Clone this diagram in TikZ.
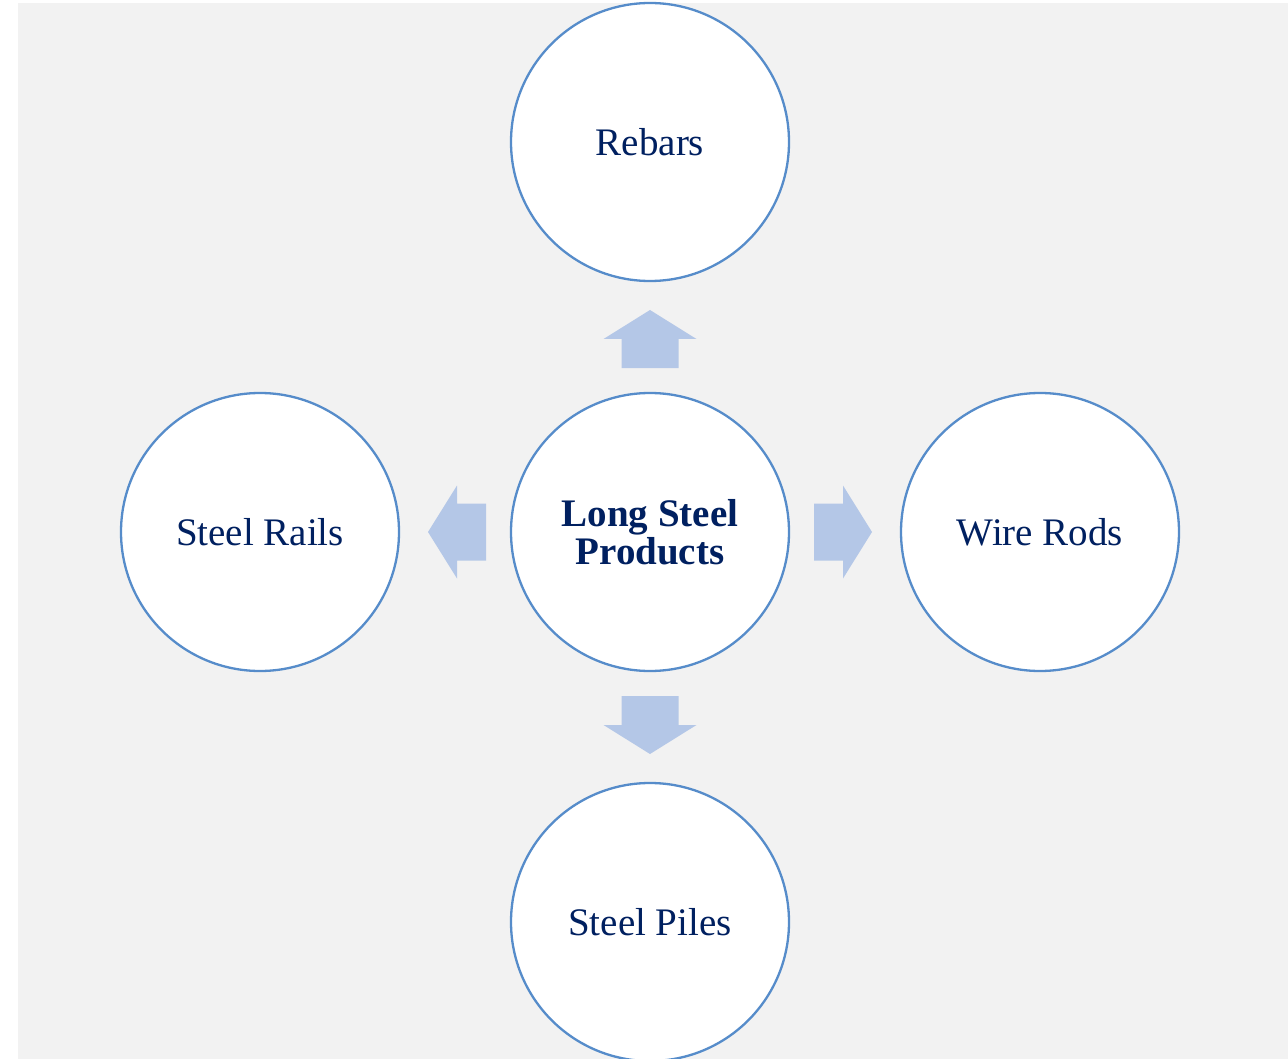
\documentclass[tikz,border=0pt]{standalone}
\usepackage{fontspec}
\setmainfont{Liberation Serif}
\usetikzlibrary{positioning,calc}
\definecolor{steelnavy}{RGB}{0,32,96}
\definecolor{steelring}{RGB}{86,140,202}
\definecolor{steelarrow}{RGB}{180,199,231}
\definecolor{steelback}{RGB}{242,242,242}

\tikzset{
  product/.style={circle, draw=steelring, line width=2.3pt, fill=white,
    minimum size=278pt, inner sep=0pt, text=steelnavy, align=center,
    font=\fontsize{39}{38.5}\selectfont},
  hub/.style={product, font=\fontsize{39}{38.5}\selectfont\bfseries},
  blockarrow/.style={fill=steelarrow}
}

\begin{document}
\begin{tikzpicture}[x=1pt, y=-1pt]
    \clip (0,0) rectangle (1288,1059);
    \fill[steelback] (18,3) rectangle (1288,1059);

    % hub and the four products
    \node[hub] (lsp) at (650,532) {Long Steel\\Products};
    \node[product, above=109.7pt of lsp] (rebars) {Rebars};
    \node[product, right=109.7pt of lsp] (wire) {Wire Rods};
    \node[product, below=109.7pt of lsp] (piles) {Steel Piles};
    \node[product, left=109.7pt of lsp] (rails) {Steel Rails};

    % block arrows pointing outwards
    \foreach \ang in {0,90,180,270}{
      \begin{scope}[shift={(lsp.center)}, rotate=\ang]
        \fill[blockarrow] (164,-28.5) -- (193,-28.5) -- (193,-46.5) -- (222,0)
          -- (193,46.5) -- (193,28.5) -- (164,28.5) -- cycle;
      \end{scope}
    }
\end{tikzpicture}
\end{document}
